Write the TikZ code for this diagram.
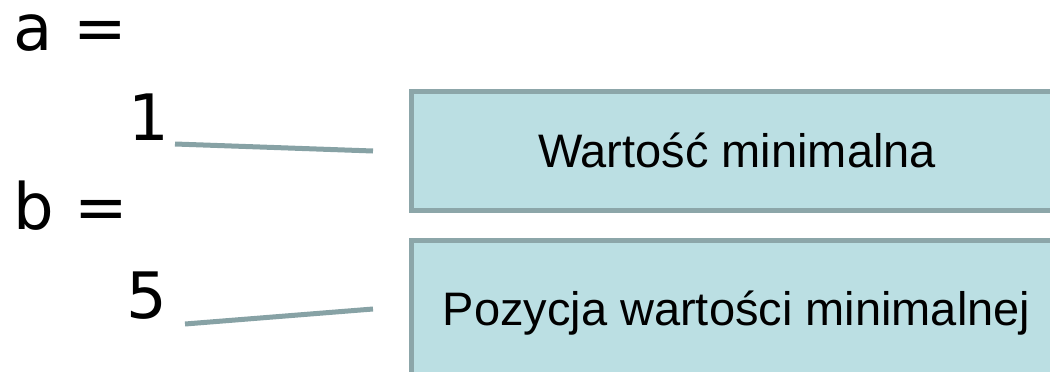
\documentclass[tikz,border=0pt]{standalone}
\usepackage{fontspec}
\setmainfont{Liberation Sans}
\newfontfamily\djv{DejaVu Sans}
\definecolor{boxfill}{HTML}{BBDFE3}
\definecolor{boxline}{HTML}{8CA6A9}
\definecolor{conn}{HTML}{87A2A5}
\begin{document}
\begin{tikzpicture}[x=1pt,y=-1pt,
  vartext/.style={anchor=base west,inner sep=0pt,font=\djv\fontsize{64}{64}\selectfont},
  infobox/.style={draw=boxline,fill=boxfill,line width=5pt,rectangle,inner sep=0pt},
  infotext/.style={anchor=base,inner sep=0pt,font=\fontsize{47}{47}\selectfont},
  connector/.style={draw=conn,line width=5pt}]
\useasboundingbox (0,0) rectangle (1050,372);
\clip (0,0) rectangle (1050,372);
% left texts
\node[vartext] (aeq) at (13,50) {a\hspace{21pt}=};
\node[vartext] (one) at (128,140) {1};
\node[vartext] (beq) at (13,229) {b\hspace{21pt}=};
\node[vartext] (five) at (126,318) {5};
% boxes
\node[infobox,minimum width=650pt,minimum height=119pt] (box1) at (736.5,151) {};
\node[infobox,minimum width=650pt,minimum height=200pt] (box2) at (736.5,340.5) {};
\node[infotext] (txt1) at (737,167) {Wartość minimalna};
\node[infotext] (txt2) at (736.5,325) {Pozycja wartości minimalnej};
% connectors
\coordinate (c1s) at (175,144);
\coordinate (c1e) at (373,151);
\coordinate (c2s) at (185,324);
\coordinate (c2e) at (373,309);
\draw[connector] (c1s) -- (c1e);
\draw[connector] (c2s) -- (c2e);
\end{tikzpicture}
\end{document}
